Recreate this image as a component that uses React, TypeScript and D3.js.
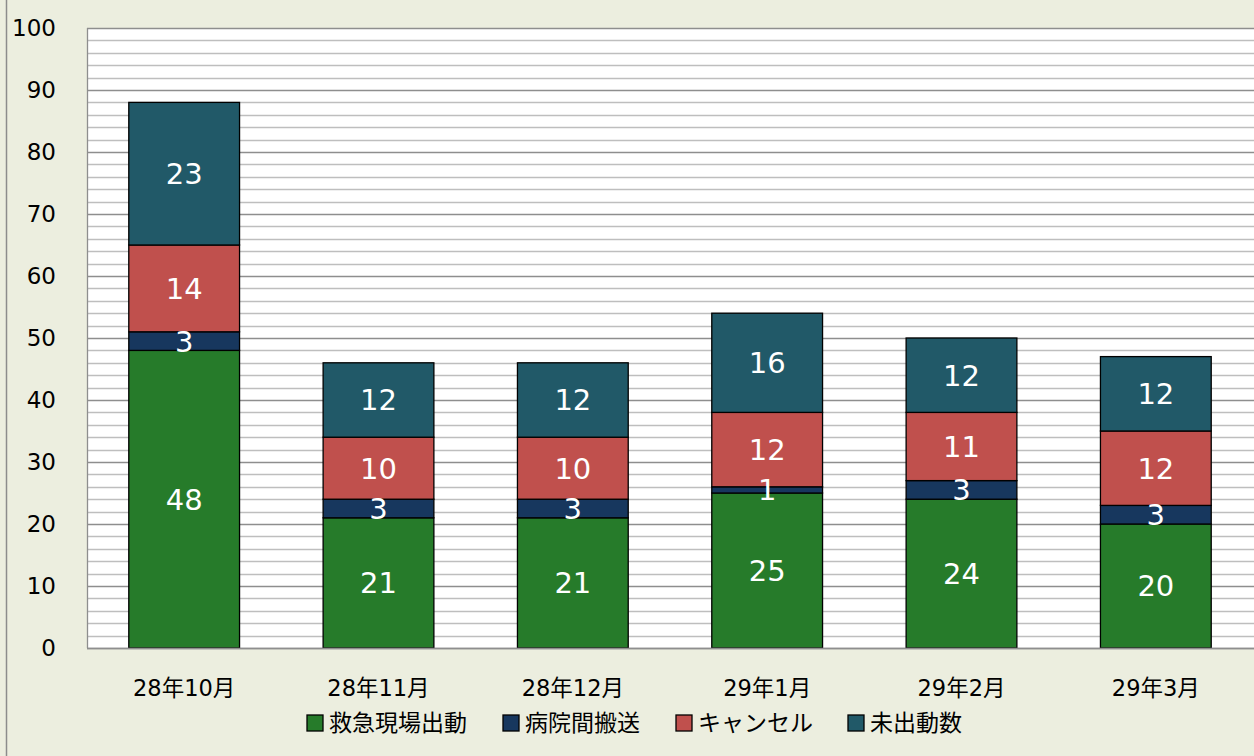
import React from 'react';
import * as d3 from 'd3';

const WIDTH = 1254;
const HEIGHT = 756;
const MARGIN = { top: 28, right: 1, bottom: 108, left: 87 };
const FONT = '"DejaVu Sans", "Noto Sans CJK JP", sans-serif';

const months = ['28年10月', '28年11月', '28年12月', '29年1月', '29年2月', '29年3月'];
const seriesNames = ['救急現場出動', '病院間搬送', 'キャンセル', '未出動数'];
const seriesColors = ['#267B2A', '#17375E', '#C0504D', '#215968'];

const onScene = [48, 21, 21, 25, 24, 20];
const transfer = [3, 3, 3, 1, 3, 3];
const cancelled = [14, 10, 10, 12, 11, 12];
const notDispatched = [23, 12, 12, 16, 12, 12];

const yTicks = [0, 10, 20, 30, 40, 50, 60, 70, 80, 90, 100];

export default function App() {
  const innerW = WIDTH - MARGIN.left - MARGIN.right;
  const innerH = HEIGHT - MARGIN.top - MARGIN.bottom;

  const rows = months.map((m, i) => ({
    month: m,
    s0: onScene[i],
    s1: transfer[i],
    s2: cancelled[i],
    s3: notDispatched[i]
  }));
  const keys = ['s0', 's1', 's2', 's3'];
  const stacked = d3.stack<any>().keys(keys)(rows);

  const x = d3.scaleBand().domain(months).range([0, innerW]).paddingInner(0.43).paddingOuter(0.215);
  const y = d3.scaleLinear().domain([0, 100]).range([innerH, 0]);
  const minor = d3.range(0, 101, 2);

  // legend layout
  const legendX = [307, 503, 676, 848];

  return <svg width={WIDTH} height={HEIGHT} style={{ position: 'absolute', left: 0, top: 0, fontFamily: FONT }}>
    <rect x={0} y={0} width={WIDTH} height={HEIGHT} fill='#ECEEDF' />
    <line x1={6.5} x2={6.5} y1={0} y2={HEIGHT} stroke='#8C8C8C' strokeWidth={1.5} />
    <g transform={`translate(${MARGIN.left},${MARGIN.top})`}>
      <rect x={0} y={0} width={innerW + 2} height={innerH} fill='#FFFFFF' />
      {minor.map(v =>
        <line key={v} x1={0} x2={innerW + 2} y1={Math.round(y(v)) + 0.5} y2={Math.round(y(v)) + 0.5}
          stroke={v % 10 === 0 ? '#8E8E8E' : '#BEBEBE'} strokeWidth={v % 10 === 0 ? 1.5 : 1.3} />
      )}
      <line x1={0.5} x2={0.5} y1={0} y2={innerH} stroke='#8E8E8E' strokeWidth={1.3} />
      {yTicks.map(v =>
        <text key={v} x={-31} y={y(v)} dy='0.36em' textAnchor='end' fontSize={23} fill='#000'>{v}</text>
      )}
      {stacked.map((layer, si) =>
        <g key={si}>
          {layer.map((d, i) =>
            <rect key={i} x={x(months[i])} y={y(d[1])} width={x.bandwidth()} height={y(d[0]) - y(d[1])}
              fill={seriesColors[si]} stroke='#000' strokeWidth={1.3} />
          )}
        </g>
      )}
      {stacked.map((layer, si) =>
        <g key={'l' + si}>
          {layer.map((d, i) =>
            <text key={i} x={(x(months[i]) as number) + x.bandwidth() / 2} y={y((d[0] + d[1]) / 2)} dy='0.36em'
              textAnchor='middle' fontSize={29} fill='#FFFFFF'>{d[1] - d[0]}</text>
          )}
        </g>
      )}
      <line x1={0} x2={innerW + 2} y1={innerH + 0.5} y2={innerH + 0.5} stroke='#8E8E8E' strokeWidth={1.5} />
      {months.map(m =>
        <text key={m} x={(x(m) as number) + x.bandwidth() / 2} y={innerH + 40} dy='0.36em' textAnchor='middle'
          fontSize={22.5} fill='#000'>{m}</text>
      )}
    </g>
    {seriesNames.map((n, i) =>
      <g key={n} transform={`translate(${legendX[i]},723)`}>
        <rect x={0} y={-8} width={16} height={16} fill={seriesColors[i]} stroke='#000' strokeWidth={1.3} />
        <text x={22} y={0} dy='0.36em' fontSize={23} fill='#000'>{n}</text>
      </g>
    )}
  </svg>;
}
